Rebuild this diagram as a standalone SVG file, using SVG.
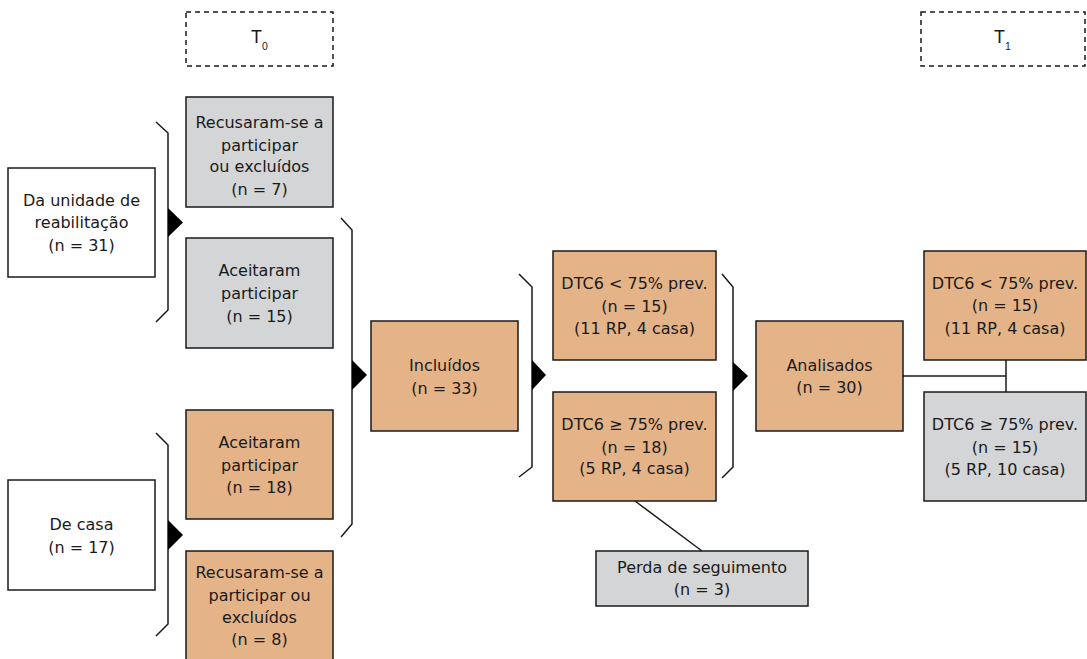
<svg xmlns="http://www.w3.org/2000/svg" width="1087" height="659" viewBox="0 0 1087 659">
<style>
.box{stroke:#1a1a1a;stroke-width:1.5}
.w{fill:#ffffff}
.g{fill:#d4d5d7}
.o{fill:#e4b488}
.dash{fill:none;stroke:#1a1a1a;stroke-width:1.5;stroke-dasharray:5,4}
.t{font-family:"DejaVu Sans",sans-serif;font-size:16px;fill:#1a1a1a;text-anchor:middle}
.a{font-family:"Liberation Sans",Arial,sans-serif;fill:#1a1a1a}
.br{fill:none;stroke:#1a1a1a;stroke-width:1.5}
.tri{fill:#000}
.ln{fill:none;stroke:#1a1a1a;stroke-width:1.5}
</style>
<rect width="1087" height="659" fill="#ffffff"/>
<g id="t0">
<rect class="dash" x="186" y="12" width="147" height="54"/>
<text class="a" x="251" y="43" font-size="18">T</text><text class="a" x="262" y="50" font-size="10.5">0</text>
</g>
<g id="t1">
<rect class="dash" x="921" y="12" width="164" height="54"/>
<text class="a" x="994" y="43" font-size="18">T</text><text class="a" x="1005" y="50" font-size="10.5">1</text>
</g>
<g id="reab">
<rect class="box w" x="8" y="168" width="147" height="109"/>
<text class="t"><tspan x="81.5" y="206">Da unidade de</tspan><tspan x="81.5" y="228">reabilitação</tspan><tspan x="81.5" y="251">(n = 31)</tspan></text>
</g>
<g id="casa">
<rect class="box w" x="8" y="480" width="147" height="110"/>
<text class="t"><tspan x="81.5" y="530">De casa</tspan><tspan x="81.5" y="553">(n = 17)</tspan></text>
</g>
<g id="recusa1">
<rect class="box g" x="186" y="97" width="147" height="110"/>
<text class="t"><tspan x="259.5" y="128">Recusaram-se a</tspan><tspan x="259.5" y="151">participar</tspan><tspan x="259.5" y="172">ou excluídos</tspan><tspan x="259.5" y="195">(n = 7)</tspan></text>
</g>
<g id="aceita1">
<rect class="box g" x="186" y="238" width="147" height="110"/>
<text class="t"><tspan x="259.5" y="276">Aceitaram</tspan><tspan x="259.5" y="299">participar</tspan><tspan x="259.5" y="322">(n = 15)</tspan></text>
</g>
<g id="aceita2">
<rect class="box o" x="186" y="410" width="147" height="109"/>
<text class="t"><tspan x="259.5" y="448">Aceitaram</tspan><tspan x="259.5" y="471">participar</tspan><tspan x="259.5" y="493">(n = 18)</tspan></text>
</g>
<g id="recusa2">
<rect class="box o" x="186" y="551" width="147" height="115"/>
<text class="t"><tspan x="259.5" y="578">Recusaram-se a</tspan><tspan x="259.5" y="601">participar ou</tspan><tspan x="259.5" y="623">excluídos</tspan><tspan x="259.5" y="645">(n = 8)</tspan></text>
</g>
<g id="incluidos">
<rect class="box o" x="371" y="321" width="147" height="110"/>
<text class="t"><tspan x="444.5" y="371">Incluídos</tspan><tspan x="444.5" y="394">(n = 33)</tspan></text>
</g>
<g id="dtc-low">
<rect class="box o" x="553" y="251" width="163" height="109"/>
<text class="t"><tspan x="634.5" y="289">DTC6 &lt; 75% prev.</tspan><tspan x="634.5" y="312">(n = 15)</tspan><tspan x="634.5" y="334">(11 RP, 4 casa)</tspan></text>
</g>
<g id="dtc-high">
<rect class="box o" x="553" y="392" width="163" height="109"/>
<text class="t"><tspan x="634.5" y="430">DTC6 ≥ 75% prev.</tspan><tspan x="634.5" y="453">(n = 18)</tspan><tspan x="634.5" y="474">(5 RP, 4 casa)</tspan></text>
</g>
<g id="perda">
<rect class="box g" x="596" y="551" width="212" height="55"/>
<text class="t"><tspan x="702" y="573">Perda de seguimento</tspan><tspan x="702" y="595">(n = 3)</tspan></text>
</g>
<g id="analisados">
<rect class="box o" x="756" y="321" width="147" height="110"/>
<text class="t"><tspan x="829.5" y="371">Analisados</tspan><tspan x="829.5" y="393">(n = 30)</tspan></text>
</g>
<g id="r-low">
<rect class="box o" x="924" y="251" width="162" height="109"/>
<text class="t"><tspan x="1005" y="289">DTC6 &lt; 75% prev.</tspan><tspan x="1005" y="311">(n = 15)</tspan><tspan x="1005" y="334">(11 RP, 4 casa)</tspan></text>
</g>
<g id="r-high">
<rect class="box g" x="924" y="392" width="162" height="109"/>
<text class="t"><tspan x="1005" y="430">DTC6 ≥ 75% prev.</tspan><tspan x="1005" y="453">(n = 15)</tspan><tspan x="1005" y="475">(5 RP, 10 casa)</tspan></text>
</g>
<g id="connectors">
<path class="br" d="M156,122 L168,133 V310 L156,322"/>
<polygon class="tri" points="168,208 183,222.5 168,237"/>
<path class="br" d="M156,433 L168,445 V624 L156,636"/>
<polygon class="tri" points="168,520 183,535 168,550"/>
<path class="br" d="M341,218 L352,230 V524 L341,537"/>
<polygon class="tri" points="352,360 367,375 352,390"/>
<path class="br" d="M519,274 L532,287 V467 L519,477"/>
<polygon class="tri" points="532,360 546,375 532,390"/>
<path class="br" d="M722,274 L733,287 V467 L722,478"/>
<polygon class="tri" points="733,362 748,376 733,391"/>
<path class="ln" d="M903,376 H1006 M1006,360 V392"/>
<path class="ln" d="M635,501 L702,551"/>
</g>
</svg>
